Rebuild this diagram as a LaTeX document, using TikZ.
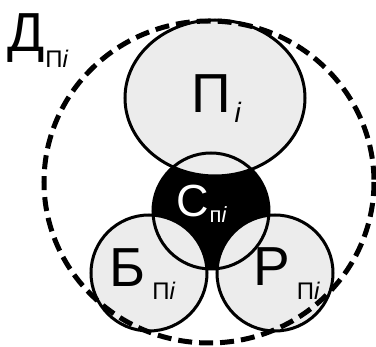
\documentclass[tikz,border=0pt]{standalone}
\usepackage{fontspec}
\setmainfont{Liberation Sans}
\definecolor{partgray}{gray}{0.925}
\newcommand{\sublbl}[3]{\hspace{#1}\raisebox{-#2}{\fontsize{24}{24}\selectfont #3}}
\tikzset{
    part/.style={ fill=partgray },
    outline/.style={ line width=3pt },
    bound/.style={ line width=5pt, dash pattern=on 14pt off 7pt },
    lbl/.style={ inner sep=0pt, anchor=base west, font=\fontsize{55}{55}\selectfont }
}
\begin{document}
\begin{tikzpicture}[ x=1pt, y=-1pt ]

	\useasboundingbox (0,0) rectangle (376,347);

		\def\rad{58}

		% core first, the other parts cover it
		\fill[ black ] (211,211) circle [ radius=\rad ];
		\fill[ part ] (215,98) ellipse [ x radius=90, y radius=78 ];
		\fill[ part ] (149,273) circle [ radius=\rad ];
		\fill[ part ] (275,273) circle [ radius=\rad ];

		\draw[ outline ] (215,98) ellipse [ x radius=90, y radius=78 ];
		\draw[ outline ] (149,273) circle [ radius=\rad ];
		\draw[ outline ] (275,273) circle [ radius=\rad ];
		\draw[ outline ] (211,211) circle [ radius=\rad ];

		\draw[ bound ] (209,182) ellipse [ x radius=165, y radius=161 ];

		\node[ lbl ] (D) at (7,52) {Д\sublbl{1pt}{16pt}{П\textit{i}}};
		\node[ lbl ] (P) at (191,113) {П\sublbl{4pt}{10pt}{\fontsize{28}{28}\selectfont\textit{i}}};
		\node[ lbl, text=white, font=\fontsize{45}{45}\selectfont ] (S) at (176,217) {С\sublbl{1pt}{6pt}{\fontsize{22}{22}\selectfont п\textit{i}}};
		\node[ lbl ] (B) at (109,287) {Б\sublbl{7pt}{13pt}{П\textit{i}}};
		\node[ lbl ] (R) at (253,286) {Р\sublbl{7pt}{14pt}{П\textit{i}}};

\end{tikzpicture}
\end{document}
